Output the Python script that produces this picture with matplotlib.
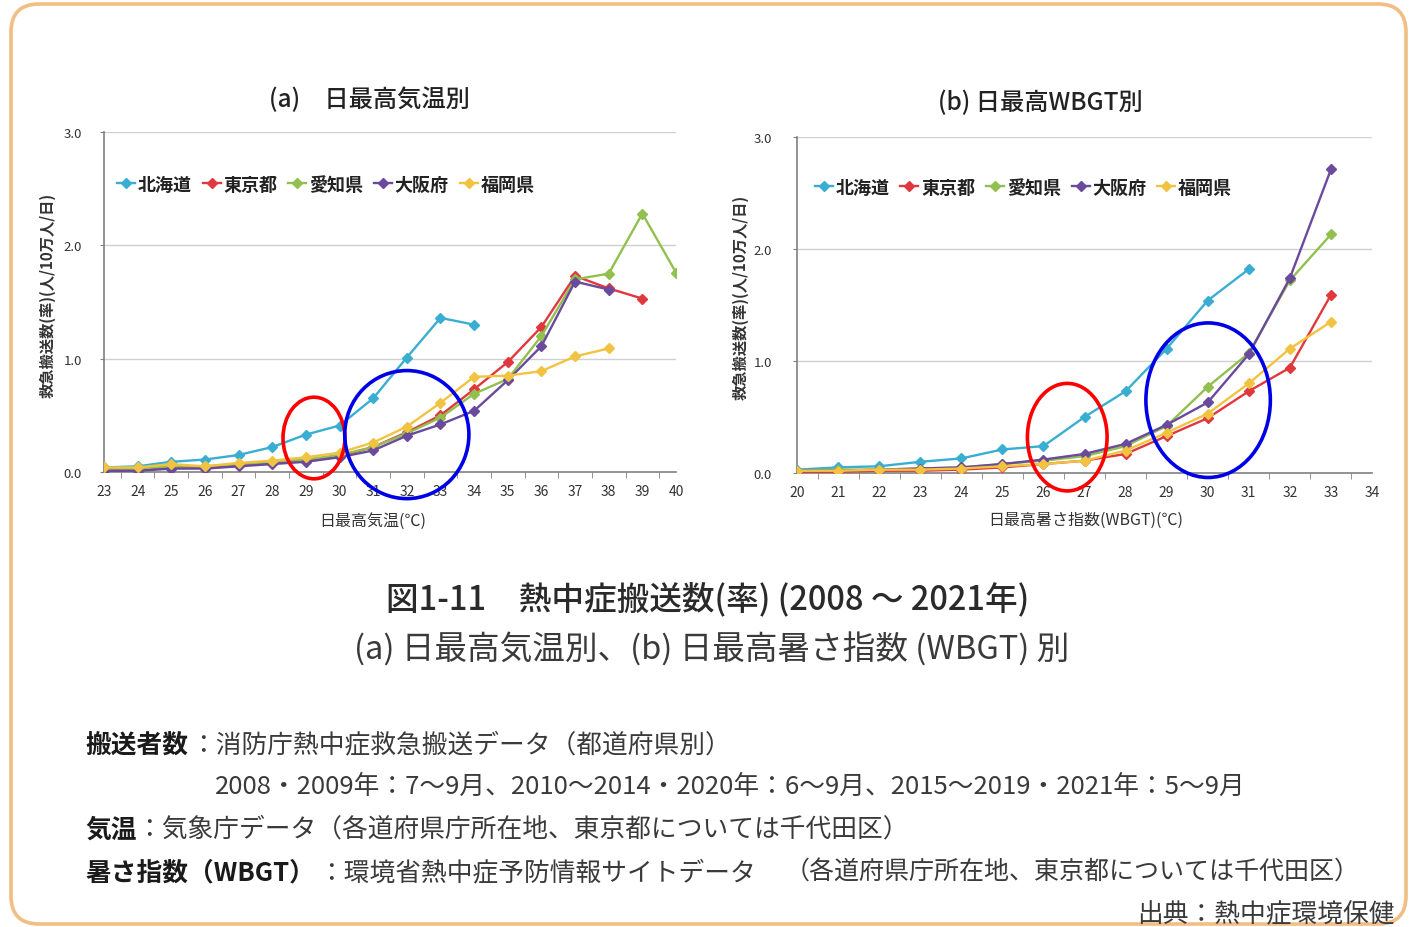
import matplotlib
matplotlib.use("Agg")
import matplotlib.pyplot as plt
from matplotlib.patches import Ellipse, FancyBboxPatch
from matplotlib.ticker import FixedLocator

plt.rcParams['font.family'] = ['Noto Sans CJK JP', 'DejaVu Sans']

# ---------------- data ----------------
prefs = ['北海道', '東京都', '愛知県', '大阪府', '福岡県']
colors = ['#3AAED2', '#E0383C', '#92C04E', '#6A4A9C', '#F2C340']

# (a) daily max temperature
temp_x = list(range(23, 41))
temp_hokkaido = [0.04, 0.05, 0.09, 0.11, 0.15, 0.22, 0.33, 0.41, 0.65, 1.01, 1.36, 1.30]
temp_tokyo = [0.02, 0.02, 0.04, 0.04, 0.06, 0.08, 0.10, 0.14, 0.22, 0.35, 0.50, 0.73,
              0.97, 1.28, 1.73, 1.62, 1.53]
temp_aichi = [0.03, 0.03, 0.05, 0.05, 0.07, 0.09, 0.11, 0.15, 0.22, 0.34, 0.48, 0.69,
              0.82, 1.20, 1.70, 1.75, 2.28, 1.76]
temp_osaka = [0.01, 0.01, 0.03, 0.03, 0.05, 0.07, 0.09, 0.13, 0.19, 0.32, 0.42, 0.54,
              0.81, 1.11, 1.68, 1.61]
temp_fukuoka = [0.04, 0.04, 0.07, 0.05, 0.08, 0.10, 0.13, 0.17, 0.26, 0.40, 0.61, 0.84,
                0.85, 0.89, 1.02, 1.09]

# (b) daily max WBGT
wbgt_x = list(range(20, 35))
wbgt_hokkaido = [0.03, 0.05, 0.06, 0.10, 0.13, 0.21, 0.24, 0.50, 0.73, 1.11, 1.54, 1.82]
wbgt_tokyo = [0.01, 0.01, 0.02, 0.02, 0.03, 0.05, 0.08, 0.11, 0.17, 0.33, 0.49, 0.73,
              0.94, 1.59]
wbgt_aichi = [0.02, 0.03, 0.03, 0.04, 0.05, 0.08, 0.11, 0.15, 0.24, 0.42, 0.77, 1.07,
              1.72, 2.13]
wbgt_osaka = [0.02, 0.02, 0.03, 0.04, 0.05, 0.08, 0.12, 0.17, 0.26, 0.43, 0.63, 1.06,
              1.74, 2.71]
wbgt_fukuoka = [0.02, 0.02, 0.03, 0.03, 0.04, 0.06, 0.08, 0.11, 0.20, 0.36, 0.53, 0.80,
                1.11, 1.35]

temp_series = [temp_hokkaido, temp_tokyo, temp_aichi, temp_osaka, temp_fukuoka]
wbgt_series = [wbgt_hokkaido, wbgt_tokyo, wbgt_aichi, wbgt_osaka, wbgt_fukuoka]

y_ticks = [0.0, 1.0, 2.0, 3.0]

# highlight ellipses (annotation overlays): (x, y, width, height, colour)
temp_marks = [(29.24, 0.30, 1.84, 0.72, '#FF0000'), (32.0, 0.33, 3.69, 1.13, '#0000E6')]
wbgt_marks = [(26.58, 0.32, 1.94, 0.96, '#FF0000'), (30.01, 0.65, 3.03, 1.38, '#0000E6')]

W, H = 1410, 928
fig = plt.figure(figsize=(W / 100, H / 100), dpi=100)
fig.patch.set_facecolor('white')


def fx(x):
    return x / W


def fy(y):
    return 1 - y / H


# background frame
bg = fig.add_axes([0, 0, 1, 1], zorder=-5)
bg.set_xlim(0, W)
bg.set_ylim(H, 0)
bg.axis('off')
bg.add_patch(FancyBboxPatch((11, 5), 1395, 920,
                            boxstyle='round,pad=0,rounding_size=28',
                            facecolor='white', edgecolor='#F1BE84', linewidth=2.6))

TXT = '#333333'


def make_chart(rect, xs, series, marks, xlabel_txt, title_txt, title_pos, xlabel_pos,
               ylabel_pos, leg_anchor, ylab_pad):
    ax = fig.add_axes(rect)
    for s, c, name in zip(series, colors, prefs):
        ax.plot(xs[:len(s)], s, color=c, lw=1.7, marker='D', markersize=4.8,
                markeredgecolor=c, label=name, zorder=3)
    ax.set_xlim(xs[0], xs[-1])
    ax.set_ylim(0, 3.0)
    ax.set_xticks(xs)
    ax.set_xticklabels([str(v) for v in xs], fontsize=10, color=TXT)
    ax.xaxis.set_minor_locator(FixedLocator([v + 0.5 for v in xs[:-1]] + [xs[-1]]))
    ax.tick_params(axis='x', which='major', length=0, pad=9)
    ax.tick_params(axis='x', which='minor', length=4, direction='out', color='#808080')
    ax.set_yticks(y_ticks)
    ax.set_yticklabels([f'{v:.1f}' for v in y_ticks], fontsize=9.5, color=TXT)
    ax.tick_params(axis='y', length=3, color='#808080', pad=ylab_pad)
    for v in y_ticks[1:]:
        ax.axhline(v, color='#D0D0D0', lw=1.0, zorder=1)
    for sp in ['top', 'right']:
        ax.spines[sp].set_visible(False)
    for sp in ['left', 'bottom']:
        ax.spines[sp].set_color('#808080')
        ax.spines[sp].set_linewidth(1.2)
    ax.set_facecolor('none')
    for (cx, cy, w, h, col) in marks:
        ax.add_patch(Ellipse((cx, cy), w, h, fill=False, edgecolor=col, lw=2.6,
                             clip_on=False, zorder=6))
    leg = ax.legend(loc='center left', bbox_to_anchor=leg_anchor, ncol=5, frameon=False,
                    handlelength=1.0, handletextpad=0.15, columnspacing=0.6,
                    borderpad=0, borderaxespad=0,
                    prop={'size': 13, 'weight': 'bold'})
    for t in leg.get_texts():
        t.set_color('#222222')
    fig.text(fx(title_pos[0]), fy(title_pos[1]), title_txt, fontsize=17.5, color='#222222',
             ha='center', va='center', fontweight='medium')
    fig.text(fx(xlabel_pos[0]), fy(xlabel_pos[1]), xlabel_txt, fontsize=11.5, color=TXT,
             ha='center', va='center')
    fig.text(fx(ylabel_pos[0]), fy(ylabel_pos[1]), '救急搬送数(率)(人/10万人/日)',
             fontsize=11, color=TXT, ha='center', va='center', rotation=90,
             fontweight='bold')
    return ax


make_chart([fx(104), fy(473), (676 - 104) / W, (473 - 133) / H], temp_x, temp_series,
           temp_marks, '日最高気温(℃)', '(a)　日最高気温別', (369, 100), (373, 521),
           (47, 295), (0.023, 0.847), 13)
make_chart([fx(797), fy(474), (1372 - 797) / W, (474 - 138) / H], wbgt_x, wbgt_series,
           wbgt_marks, '日最高暑さ指数(WBGT)(℃)', '(b) 日最高WBGT別', (1040, 103),
           (1086, 520), (740, 297), (0.031, 0.851), 15)

# captions
fig.text(fx(708), fy(600), '図1-11　熱中症搬送数(率) (2008 ～ 2021年)', fontsize=23.5,
         color='#2A2A2A', ha='center', va='center', fontweight='medium')
fig.text(fx(712), fy(650), '(a) 日最高気温別、(b) 日最高暑さ指数 (WBGT) 別', fontsize=23.5,
         color='#3A3A3A', ha='center', va='center')

NFS = 18.5
fig.text(fx(85), fy(745), '搬送者数', fontsize=NFS, color='#1A1A1A', fontweight='bold',
         ha='left', va='center')
fig.text(fx(190), fy(745), '：消防庁熱中症救急搬送データ（都道府県別）', fontsize=NFS,
         color='#3A3A3A', ha='left', va='center')
fig.text(fx(215), fy(787),
         '2008・2009年：7～9月、2010～2014・2020年：6～9月、2015～2019・2021年：5～9月',
         fontsize=NFS, color='#3A3A3A', ha='left', va='center')
fig.text(fx(85), fy(830), '気温', fontsize=NFS, color='#1A1A1A', fontweight='bold',
         ha='left', va='center')
fig.text(fx(136), fy(830), '：気象庁データ（各道府県庁所在地、東京都については千代田区）',
         fontsize=NFS, color='#3A3A3A', ha='left', va='center')
fig.text(fx(85), fy(873), '暑さ指数（WBGT）', fontsize=NFS, color='#1A1A1A',
         fontweight='bold', ha='left', va='center')
fig.text(fx(318), fy(873), '：環境省熱中症予防情報サイトデータ', fontsize=NFS,
         color='#3A3A3A', ha='left', va='center')
fig.text(fx(785), fy(873), '（各道府県庁所在地、東京都については千代田区）', fontsize=18,
         color='#3A3A3A', ha='left', va='center')
fig.text(fx(1137), fy(902), '出典：熱中症環境保健', fontsize=18.5,
         color='#3A3A3A', ha='left', va='top')

fig.savefig('out.png', dpi=100, facecolor='white')
